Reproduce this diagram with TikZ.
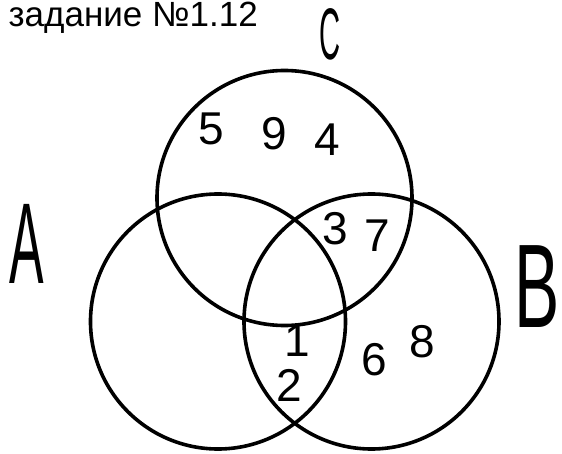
\documentclass[tikz,border=0pt]{standalone}
\usepackage{fontspec}
\setmainfont{Liberation Sans}
\usepackage{tikz}

\begin{document}
\begin{tikzpicture}[x=1pt, y=1pt,
ring/.style={draw=black, line width=3.6pt, circle, minimum size=255pt, inner sep=0pt},
digit/.style={font=\fontsize{46}{46}\selectfont, inner sep=0pt},
setname/.style={inner sep=0pt}
]
\useasboundingbox (0,0) rectangle (562,453);
\node[anchor=base east, inner sep=0pt, font=\fontsize{35}{35}\selectfont] (title) at (258,426) {задание №1.12};

\node[ring] (ringA) at (218,131.5) {};
\node[ring] (ringB) at (371.5,131.5) {};
\node[ring] (ringC) at (284.5,255) {};

\node[setname, font=\fontsize{115}{115}\selectfont] (nameA) at (27,209) {\scalebox{0.45}[1]{A}};
\node[setname, font=\fontsize{119}{119}\selectfont] (nameB) at (537,166) {\scalebox{0.57}[1]{B}};
\node[setname, font=\fontsize{73}{73}\selectfont] (nameC) at (330,419) {\scalebox{0.4}[1]{C}};

%\draw (ringA) -- (ringB);
\foreach \name/\x/\y/\val in {d5/211/324.5/5, d9/274/319.5/9, d4/327.5/313.5/4, d3/335/224.5/3, d7/377.5/217/7, d1/297.5/112/1, d2/289/67.5/2, d6/374.5/93/6, d8/422.5/111.5/8}
{
\node[digit] (\name) at (\x,\y) {\val};
}
\end{tikzpicture}
\end{document}
